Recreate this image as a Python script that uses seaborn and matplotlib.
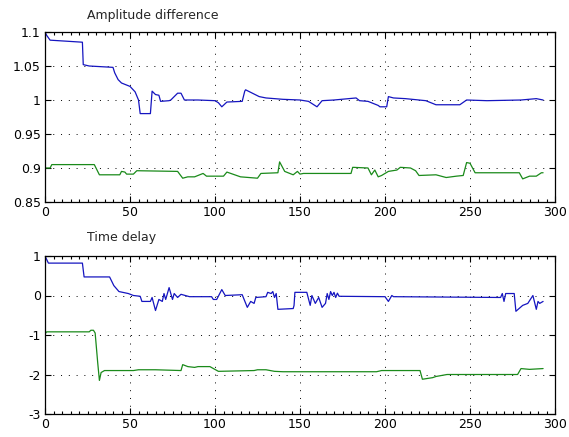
import numpy as np
import pandas as pd
import matplotlib
matplotlib.use("Agg")
import matplotlib.pyplot as plt
import seaborn as sns
from matplotlib.ticker import MultipleLocator, FuncFormatter

# amplitude difference, upper trace (blue)
amp_blue_x = [0, 1, 3, 22, 22.5, 26, 40, 41, 43, 45, 50, 53, 55, 56, 62, 63, 65, 67, 68, 73,
              74, 78, 80, 82, 90, 100, 102, 104, 107, 116, 117.5, 118, 122, 126, 130, 140, 150, 155, 160, 163,
              170, 183, 185, 190, 196, 197, 201, 202, 205, 212, 224, 228, 230, 244, 248, 260, 280, 289, 291, 293]
amp_blue_y = [1.1, 1.095, 1.088, 1.085, 1.052, 1.05, 1.048, 1.04, 1.03, 1.025, 1.02, 1.012, 1.0, 0.98, 0.98, 1.013, 1.008, 1.007, 0.998, 0.999,
              1.0, 1.01, 1.01, 1.0, 1.0, 0.999, 0.996, 0.99, 0.997, 0.998, 1.013, 1.015, 1.01, 1.005, 1.003, 1.001, 1.0, 0.998, 0.99, 0.999,
              1.0, 1.003, 0.999, 0.998, 0.992, 0.99, 0.99, 1.005, 1.003, 1.002, 0.999, 0.995, 0.993, 0.993, 1.0, 0.999, 1.0, 1.002, 1.001, 1.0]

# amplitude difference, lower trace (green)
amp_green_x = [0, 3, 4, 29, 31, 32, 44, 45, 47, 48, 52, 54, 78, 81, 84, 88, 93, 95, 105, 107,
               115, 125, 127, 137, 138, 141, 146, 148.5, 150, 152, 180, 181, 190, 192, 194, 196, 198, 202, 207, 209,
               215, 218, 220, 230, 236, 242, 246, 248, 250, 253, 279, 281, 285, 289, 292, 293]
amp_green_y = [0.9, 0.9, 0.905, 0.905, 0.895, 0.89, 0.89, 0.895, 0.894, 0.891, 0.891, 0.896, 0.895, 0.885, 0.887, 0.887, 0.892, 0.888, 0.888, 0.894,
               0.887, 0.885, 0.892, 0.893, 0.909, 0.895, 0.89, 0.895, 0.891, 0.892, 0.892, 0.901, 0.9, 0.89, 0.897, 0.887, 0.889, 0.895, 0.897, 0.901,
               0.9, 0.896, 0.889, 0.89, 0.886, 0.888, 0.889, 0.908, 0.907, 0.893, 0.893, 0.884, 0.888, 0.888, 0.893, 0.893]

# time delay, upper trace (blue)
td_blue_x = [0, 2, 22, 23, 38, 40.5, 43.5, 49, 52, 56, 57, 62, 63, 65, 67, 69, 70, 71, 73, 75,
             76, 78, 80, 85, 98, 99, 101, 104, 106, 116, 119, 121, 123, 124, 130, 131, 133, 134, 135, 136,
             137, 146, 146.5, 147, 154, 156, 157, 159, 161, 163, 165, 166, 167, 168, 169, 170, 171, 172, 173, 200,
             202, 204, 205, 268, 269, 270, 271, 276, 277, 281, 284, 287, 289, 290, 291, 293]
td_blue_y = [1.0, 0.82, 0.82, 0.47, 0.47, 0.25, 0.1, 0.05, 0.0, -0.02, -0.15, -0.15, -0.05, -0.38, -0.1, -0.15, 0.05, -0.1, 0.2, -0.1,
             0.05, -0.05, 0.03, -0.03, -0.03, -0.1, -0.1, 0.15, 0.0, 0.02, -0.3, -0.15, -0.2, -0.05, -0.03, 0.08, 0.05, 0.1, -0.05, 0.05,
             -0.35, -0.33, -0.25, 0.08, 0.08, -0.25, 0.0, -0.2, -0.05, -0.3, -0.2, 0.05, -0.1, 0.1, 0.0, 0.08, -0.05, 0.06, -0.02, -0.03,
             -0.15, 0.0, -0.03, -0.05, 0.05, -0.15, 0.05, 0.05, -0.4, -0.25, -0.2, 0.0, -0.35, -0.15, -0.2, -0.15]

# time delay, lower trace (green)
td_green_x = [0, 1, 26, 27, 28.5, 29.5, 31, 32, 33, 35, 52, 55, 65, 80, 81, 84, 88, 90, 97, 102,
              123, 125, 130, 135, 140, 195, 198, 220.6, 222, 228, 230, 236.5, 278, 280, 285, 293]
td_green_y = [-0.97, -0.92, -0.92, -0.88, -0.88, -0.95, -1.7, -2.15, -1.95, -1.9, -1.9, -1.88, -1.88, -1.9, -1.75, -1.8, -1.82, -1.8, -1.8, -1.92,
              -1.9, -1.88, -1.88, -1.92, -1.93, -1.93, -1.9, -1.9, -2.12, -2.08, -2.05, -2.0, -2.0, -1.85, -1.87, -1.85]

amp_ticks = [0.85, 0.9, 0.95, 1.0, 1.05, 1.1]
td_ticks = [-3, -2, -1, 0, 1]

blue = "#1515c0"
green = "#1a8a1a"

sns.set_style("white")
plt.rcParams["font.family"] = ["DejaVu Sans"]
plt.rcParams["font.size"] = 9

fig = plt.figure(figsize=(5.69, 4.37), dpi=100)
ax1 = fig.add_axes([45 / 569, 1 - 202 / 437, 510 / 569, 170 / 437])
ax2 = fig.add_axes([45 / 569, 1 - 414 / 437, 510 / 569, 158 / 437])


def fmt(v, pos):
    return ("%g" % round(v, 2))


for ax, traces, yl, yt in [
    (ax1, [(amp_blue_x, amp_blue_y, blue), (amp_green_x, amp_green_y, green)], (0.85, 1.1), amp_ticks),
    (ax2, [(td_blue_x, td_blue_y, blue), (td_green_x, td_green_y, green)], (-3, 1), td_ticks),
]:
    for xs, ys, c in traces:
        d = pd.DataFrame({"x": xs, "y": ys})
        sns.lineplot(data=d, x="x", y="y", ax=ax, sort=False, estimator=None,
                     color=c, linewidth=0.9)
    ax.set_xlim(0, 300)
    ax.set_ylim(*yl)
    ax.set_yticks(yt)
    ax.yaxis.set_major_formatter(FuncFormatter(fmt))
    ax.xaxis.set_major_locator(MultipleLocator(50))
    ax.xaxis.set_minor_locator(MultipleLocator(5))
    ax.set_xlabel("")
    ax.set_ylabel("")
    ax.grid(True, which="major", color="black", linestyle=(0, (1, 7)), linewidth=0.7)
    ax.tick_params(which="both", direction="in", top=True, right=True, left=True, bottom=True,
                   colors="black", labelsize=9, pad=3)
    ax.tick_params(which="major", length=4, width=0.8)
    ax.tick_params(which="minor", length=2.5, width=0.8)
    for s in ax.spines.values():
        s.set_color("black")
        s.set_linewidth(0.9)
    ax.set_facecolor("white")

fig.text(87 / 569, 1 - 15 / 437, "Amplitude difference", ha="left", va="center", fontsize=9)
fig.text(87 / 569, 1 - 238 / 437, "Time delay", ha="left", va="center", fontsize=9)

fig.savefig("out.png", dpi=100, facecolor="white")
